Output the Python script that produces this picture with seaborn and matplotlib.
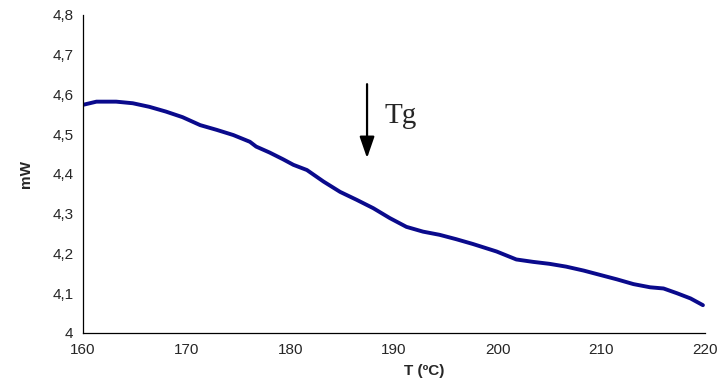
import matplotlib
matplotlib.use("Agg")
import matplotlib.pyplot as plt
import seaborn as sns
import pandas as pd

# Data
temperature = [160.0, 161.3, 163.2, 164.8, 166.4, 168.0, 169.6, 171.3, 172.9, 174.5,
               176.1, 176.7, 178.0, 179.3, 180.3, 181.6, 183.2, 184.8, 186.4, 188.0,
               189.6, 191.2, 192.8, 194.4, 196.0, 197.6, 199.9, 201.8, 203.4, 205.0,
               206.6, 208.3, 209.9, 211.5, 213.1, 214.7, 216.0, 217.3, 218.6, 219.8]
heat_flow = [4.574, 4.582, 4.582, 4.578, 4.569, 4.557, 4.543, 4.523, 4.511, 4.498,
             4.481, 4.469, 4.454, 4.437, 4.423, 4.410, 4.381, 4.355, 4.335, 4.314,
             4.289, 4.267, 4.255, 4.247, 4.236, 4.224, 4.205, 4.185, 4.179, 4.174,
             4.167, 4.157, 4.146, 4.135, 4.123, 4.115, 4.112, 4.100, 4.087, 4.070]

x_ticks = [160, 170, 180, 190, 200, 210, 220]
y_ticks = [4.0, 4.1, 4.2, 4.3, 4.4, 4.5, 4.6, 4.7, 4.8]
y_tick_labels = ["4", "4,1", "4,2", "4,3", "4,4", "4,5", "4,6", "4,7", "4,8"]

arrow_x = 187.4
arrow_start = 4.626
arrow_end = 4.440
tg_label = "Tg"
tg_x = 189.1
tg_y = 4.545

df = pd.DataFrame({"T": temperature, "mW": heat_flow})

sns.set_style("white")
plt.rcParams["font.family"] = ["Liberation Sans", "DejaVu Sans"]

fig = plt.figure(figsize=(7.21, 3.78), dpi=100)
ax = fig.add_axes([83 / 721, 1 - 333 / 378, (705 - 83) / 721, (333 - 15) / 378])

sns.lineplot(data=df, x="T", y="mW", ax=ax, color="#0a0a8c", linewidth=2.8)

ax.set_xlim(160, 220)
ax.set_ylim(4.0, 4.8)
ax.set_xticks(x_ticks)
ax.set_xticklabels([str(v) for v in x_ticks], fontsize=11)
ax.set_yticks(y_ticks)
ax.set_yticklabels(y_tick_labels, fontsize=11)
ax.tick_params(axis="both", direction="out", length=4, width=0.8, color="black", pad=3)

sns.despine(ax=ax)
for s in ["left", "bottom"]:
    ax.spines[s].set_color("black")
    ax.spines[s].set_linewidth(0.9)

ax.set_xlabel("")
ax.set_ylabel("mW", fontsize=11, fontweight="bold", labelpad=14)
ax.text(0.548, -0.118, "T (ºC)", transform=ax.transAxes, ha="center", va="center",
        fontsize=11, fontweight="bold")

ax.annotate("", xy=(arrow_x, arrow_end), xytext=(arrow_x, arrow_start),
            arrowprops=dict(arrowstyle="-|>,head_width=0.45,head_length=1.3",
                            color="black", lw=1.6, shrinkA=0, shrinkB=0))
ax.text(tg_x, tg_y, tg_label, fontsize=21, family=["Liberation Serif", "DejaVu Serif"],
        ha="left", va="center")

fig.savefig("out.png", dpi=100)
